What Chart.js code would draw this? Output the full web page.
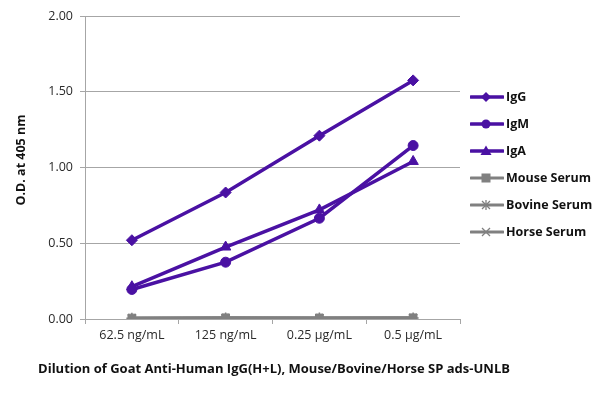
<!DOCTYPE html>
<html><head><meta charset="utf-8">
<script src="https://cdn.jsdelivr.net/npm/chart.js@4/dist/chart.umd.min.js"></script>
<style>
html,body{margin:0;padding:0;background:#fff;}
#wrap{position:relative;width:600px;height:394px;}
#legend{position:absolute;left:470px;top:83px;font-family:"Open Sans",sans-serif;font-weight:bold;font-size:12.5px;color:#111;}
.li{display:flex;align-items:center;height:27px;}
.li svg{margin-right:2px;}
</style>
</head><body>
<div id="wrap"><canvas id="c" width="600" height="394"></canvas><div id="legend"></div></div>
<script>
const categories = ["62.5 ng/mL", "125 ng/mL", "0.25 \u00b5g/mL", "0.5 \u00b5g/mL"];
const seriesNames = ["IgG", "IgM", "IgA", "Mouse Serum", "Bovine Serum", "Horse Serum"];
const igG = [0.52, 0.835, 1.21, 1.575];
const igM = [0.195, 0.375, 0.665, 1.145];
const igA = [0.213, 0.475, 0.72, 1.04];
const mouseSerum = [0.006, 0.008, 0.007, 0.008];
const bovineSerum = [0.005, 0.006, 0.006, 0.007];
const horseSerum = [0.005, 0.006, 0.006, 0.006];
const yTicks = [0, 0.5, 1, 1.5, 2];
const xTitle = "Dilution of Goat Anti-Human IgG(H+L), Mouse/Bovine/Horse SP ads-UNLB";
const yTitle = "O.D. at 405 nm";

const PURPLE = "#4a11a3";
const GRAY = "#808080";
const FONT = '"Open Sans", sans-serif';

const styles = [
  {color: PURPLE, point: "rectRot", r: 5.5, bw: 3.5},
  {color: PURPLE, point: "circle", r: 5, bw: 3.5},
  {color: PURPLE, point: "triangle", r: 6, bw: 3.5},
  {color: GRAY, point: "rect", r: 5.5, bw: 3},
  {color: GRAY, point: "star", r: 5.5, bw: 3},
  {color: GRAY, point: "crossRot", r: 5.5, bw: 3}
];
const values = [igG, igM, igA, mouseSerum, bovineSerum, horseSerum];

const datasets = values.map((v, i) => ({
  label: seriesNames[i],
  data: v,
  borderColor: styles[i].color,
  backgroundColor: styles[i].color,
  borderWidth: styles[i].bw,
  pointStyle: styles[i].point,
  pointRadius: styles[i].r,
  pointBorderWidth: (styles[i].point === "star" || styles[i].point === "crossRot") ? 1.5 : 1,
  pointBorderColor: styles[i].color,
  pointBackgroundColor: styles[i].color,
  tension: 0
}));

const titlePlugin = {
  id: "axisTitles",
  afterDraw(chart) {
    const ctx = chart.ctx;
    ctx.save();
    ctx.fillStyle = "#111";
    ctx.font = "bold 13px " + FONT;
    ctx.textAlign = "center";
    ctx.textBaseline = "middle";
    ctx.fillText(xTitle, 274, 369);
    ctx.font = "bold 12.5px " + FONT;
    ctx.translate(21, 160);
    ctx.rotate(-Math.PI / 2);
    ctx.fillText(yTitle, 0, 0);
    ctx.restore();
  }
};

new Chart(document.getElementById("c"), {
  type: "line",
  data: {labels: categories, datasets},
  options: {
    responsive: false,
    animation: false,
    layout: {padding: {left: 0, right: 140, top: 16, bottom: 0}},
    plugins: {legend: {display: false}, tooltip: {enabled: false}},
    scales: {
      x: {
        offset: true,
        grid: {offset: true, drawOnChartArea: false, color: "#a6a6a6", tickLength: 5},
        border: {color: "#a6a6a6", width: 1},
        ticks: {color: "#2a2a2a", font: {family: FONT, size: 12.5}, padding: 4, maxRotation: 0},
        afterFit(axis) { axis.height = 75; }
      },
      y: {
        min: 0, max: 2,
        afterBuildTicks(axis) { axis.ticks = yTicks.map(v => ({value: v})); },
        grid: {color: "#a6a6a6", tickLength: 5},
        border: {color: "#a6a6a6", width: 1},
        ticks: {color: "#2a2a2a", font: {family: FONT, size: 12.5}, padding: 7, callback: v => Number(v).toFixed(2)},
        afterFit(axis) { axis.width = 85; }
      }
    }
  },
  plugins: [titlePlugin]
});

// HTML legend
function markerSvg(s) {
  const c = s.color;
  let m = "";
  const cx = 16, cy = 7;
  if (s.point === "rectRot") m = `<polygon points="${cx},${cy-5} ${cx+5},${cy} ${cx},${cy+5} ${cx-5},${cy}" fill="${c}"/>`;
  else if (s.point === "circle") m = `<circle cx="${cx}" cy="${cy}" r="4.5" fill="${c}"/>`;
  else if (s.point === "triangle") m = `<polygon points="${cx},${cy-5.5} ${cx+5.5},${cy+4} ${cx-5.5},${cy+4}" fill="${c}"/>`;
  else if (s.point === "rect") m = `<rect x="${cx-4.5}" y="${cy-4.5}" width="9" height="9" fill="${c}"/>`;
  else if (s.point === "star") m = `<g stroke="${c}" stroke-width="1.3"><line x1="${cx-4}" y1="${cy-4}" x2="${cx+4}" y2="${cy+4}"/><line x1="${cx+4}" y1="${cy-4}" x2="${cx-4}" y2="${cy+4}"/><line x1="${cx}" y1="${cy-5}" x2="${cx}" y2="${cy+5}"/></g>`;
  else if (s.point === "crossRot") m = `<g stroke="${c}" stroke-width="1.3"><line x1="${cx-4}" y1="${cy-4}" x2="${cx+4}" y2="${cy+4}"/><line x1="${cx+4}" y1="${cy-4}" x2="${cx-4}" y2="${cy+4}"/></g>`;
  return `<svg width="34" height="14"><line x1="1" y1="${cy}" x2="33" y2="${cy}" stroke="${c}" stroke-width="${s.bw}" stroke-linecap="round"/>${m}</svg>`;
}
document.getElementById("legend").innerHTML = seriesNames.map((n, i) =>
  `<div class="li">${markerSvg(styles[i])}<span>${n}</span></div>`).join("");
</script>
</body></html>
